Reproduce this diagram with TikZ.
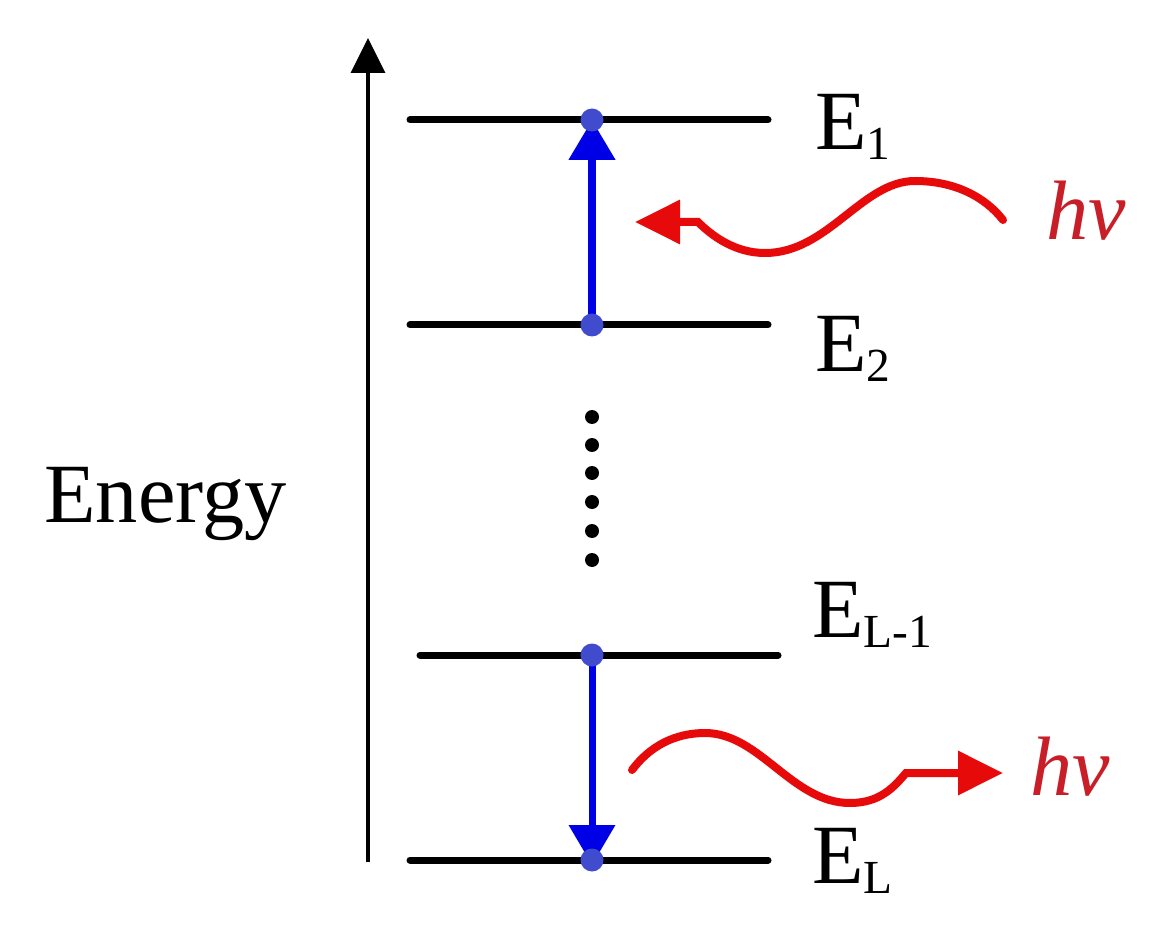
\documentclass[tikz,border=0pt]{standalone}
\usepackage{fontspec}
\setmainfont{Liberation Serif}
\usetikzlibrary{arrows.meta}
\definecolor{photonred}{RGB}{230,10,10}
\definecolor{hvred}{RGB}{200,30,40}
\definecolor{transblue}{RGB}{0,0,230}
\definecolor{dotblue}{RGB}{65,75,205}
\newcommand{\bigtxt}{\fontsize{48}{52}\selectfont}
\newcommand{\levlabel}[1]{E\raisebox{-0.2cm}{\fontsize{27}{29}\selectfont #1}}

\begin{document}
\begin{tikzpicture}[x=0.02cm,y=-0.02cm,
    level/.style={line width=0.14cm,line cap=round},
    elec/.style={circle,fill=dotblue,inner sep=0pt,minimum size=0.46cm},
    vdot/.style={circle,fill=black,inner sep=0pt,minimum size=0.28cm},
    trans/.style={transblue,line width=0.16cm,-{Triangle[length=0.8cm,width=0.9cm]}},
    photon/.style={photonred,line width=0.16cm,line cap=round,-{Triangle[length=0.9cm,width=0.85cm]}},
    lab/.style={anchor=base west,inner sep=0pt,font=\bigtxt}]
  \useasboundingbox (0,0) rectangle (1165,935);

  % Energy axis
  \coordinate (axbot) at (368,862);
  \coordinate (axtop) at (368,38);
  \draw[line width=0.07cm,-{Triangle[length=0.7cm,width=0.68cm]}] (axbot) -- (axtop);
  \node[lab] (energy) at (44,522) {Energy};

  % Levels
  \foreach \nm/\xa/\xb/\y in {1/410/768/120, 2/410/768/325, L1/420/778/655, L/410/768/860} {
    \draw[level] (\xa,\y) -- (\xb,\y);
    \coordinate (p\nm) at (592,\y);
  }
  \node[lab] (labE1) at (815,150) {\levlabel{1}};
  \node[lab] (labE2) at (815,372) {\levlabel{2}};
  \node[lab] (labEL1) at (812,637) {\levlabel{L-1}};
  \node[lab] (labEL) at (812,883) {\levlabel{L}};

  % Dots between levels
  \foreach \y in {417,445,473,502,531,560}
    \node[vdot] at (592,\y) {};

  % Transitions
  \draw[trans] (p2) -- (p1);
  \draw[trans,line width=0.14cm] (pL1) -- ([yshift=-0.1cm]pL);
  \foreach \nm in {1,2,L1,L}
    \node[elec] (e\nm) at (p\nm) {};

  % Photons
  \coordinate (absS) at (1003,220);
  \coordinate (absT) at (635,222);
  \draw[photon] (absS) .. controls (985,197) and (955,181) .. (915,181)
    .. controls (862,181) and (828,253) .. (765,253)
    .. controls (735,253) and (712,236) .. (698,222) -- (absT);
  \node[lab,font=\bigtxt\itshape,text=hvred] (hvabs) at (1046,240) {hv};

  \coordinate (emS) at (632,770);
  \coordinate (emT) at (1003,773);
  \draw[photon] (emS) .. controls (650,746) and (675,733) .. (705,733)
    .. controls (760,733) and (792,803) .. (850,803)
    .. controls (880,803) and (894,787) .. (906,773) -- (emT);
  \node[lab,font=\bigtxt\itshape,text=hvred] (hvem) at (1030,795) {hv};
\end{tikzpicture}
\end{document}
